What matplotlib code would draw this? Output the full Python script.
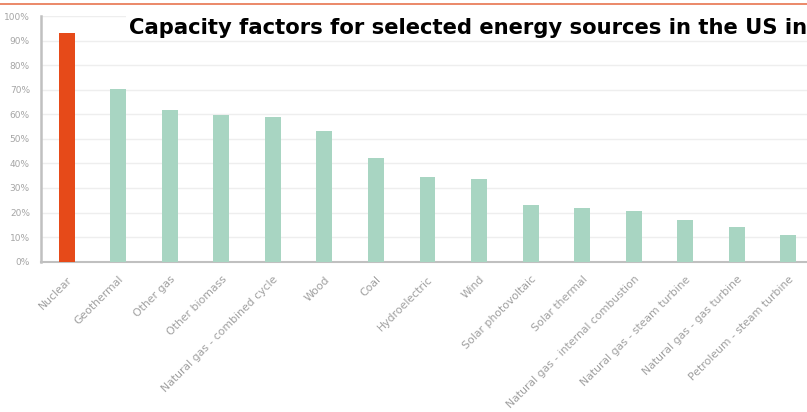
import matplotlib
matplotlib.use("Agg")
import matplotlib.pyplot as plt
from matplotlib.ticker import FuncFormatter

categories = ["Nuclear", "Geothermal", "Other gas", "Other biomass",
              "Natural gas - combined cycle", "Wood", "Coal", "Hydroelectric",
              "Wind", "Solar photovoltaic", "Solar thermal",
              "Natural gas - internal combustion", "Natural gas - steam turbine",
              "Natural gas - gas turbine", "Petroleum - steam turbine"]
values = [93.2, 70.1, 61.6, 59.6, 58.8, 53.0, 42.4, 34.3, 33.5, 22.9, 21.8,
          20.7, 17.0, 14.0, 11.0]
yticks = [0, 10, 20, 30, 40, 50, 60, 70, 80, 90, 100]
title = "Capacity factors for selected energy sources in the US in"

W, H = 807, 412
fig = plt.figure(figsize=(W / 100, H / 100), dpi=100)
fig.patch.set_facecolor("white")
plt.rcParams["font.family"] = ["DejaVu Sans"]

ax_l, ax_r, ax_b, ax_t = 41, 814, 261.7, 16.0
ax = fig.add_axes([ax_l / W, 1 - ax_b / H, (ax_r - ax_l) / W, (ax_b - ax_t) / H])

colors = ["#E64A19"] + ["#A8D5C2"] * (len(values) - 1)
x = list(range(len(categories)))
ax.bar(x, values, width=0.31, color=colors, zorder=3)
ax.set_xlim(-0.5, len(categories) - 0.5)
ax.set_ylim(0, 100)
ax.set_yticks(yticks)
ax.yaxis.set_major_formatter(FuncFormatter(lambda v, p: f"{int(v)}%"))
ax.grid(axis="y", color="#eeeeee", linewidth=1, zorder=0)
ax.set_xticks(x)
ax.set_xticklabels(categories, rotation=45, ha="right", rotation_mode="anchor",
                   color="#a0a0a0", fontsize=7.8)
ax.tick_params(axis="x", length=0, pad=9)
ax.tick_params(axis="y", length=0, labelsize=6.5, labelcolor="#a5a5a5", pad=8)
for s in ["top", "right"]:
    ax.spines[s].set_visible(False)
ax.spines["left"].set_color("#c0c0c0")
ax.spines["left"].set_linewidth(1.8)
ax.spines["bottom"].set_color("#c0c0c0")
ax.spines["bottom"].set_linewidth(1.5)

# orange rule at top
fig.add_artist(plt.Line2D([0, 1], [1 - 3.5 / H, 1 - 3.5 / H], color="#E8744F", linewidth=1.2))

fig.text(129 / W, 1 - 27.5 / H, title, fontsize=15.2, fontweight="bold", color="black",
         va="center", ha="left",
         bbox=dict(facecolor="white", edgecolor="none", pad=2))

fig.savefig("out.png", dpi=100)
